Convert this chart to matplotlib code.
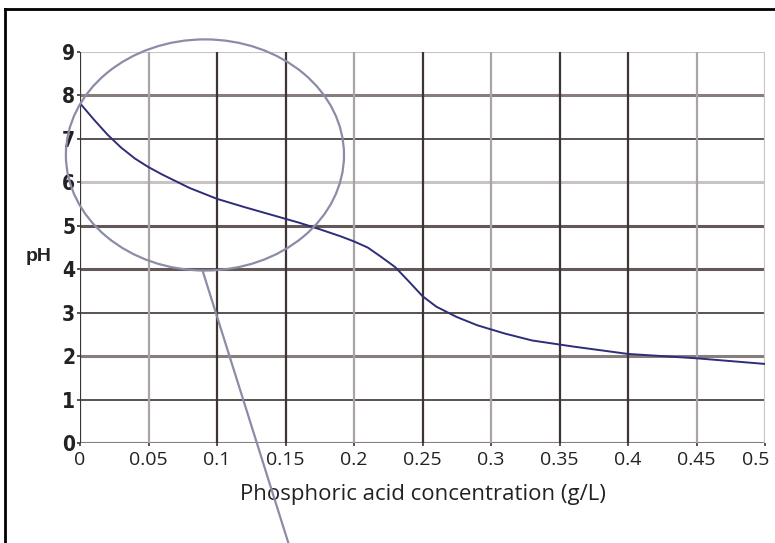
import numpy as np
import matplotlib
matplotlib.use("Agg")
import matplotlib.pyplot as plt
import matplotlib.transforms as mtransforms
from matplotlib.patches import Ellipse
from matplotlib.lines import Line2D

# data
conc = [0, 0.01, 0.02, 0.03, 0.04, 0.05, 0.06, 0.08, 0.1, 0.12, 0.14, 0.16,
        0.175, 0.19, 0.2, 0.21, 0.22, 0.23, 0.24, 0.25, 0.26, 0.275, 0.29,
        0.31, 0.33, 0.36, 0.4, 0.45, 0.5]
ph = [7.82, 7.45, 7.1, 6.8, 6.55, 6.35, 6.18, 5.87, 5.62, 5.43, 5.25, 5.07,
      4.92, 4.76, 4.64, 4.5, 4.28, 4.05, 3.72, 3.38, 3.14, 2.9, 2.71,
      2.52, 2.36, 2.22, 2.05, 1.95, 1.82]
xticks = [0, 0.05, 0.1, 0.15, 0.2, 0.25, 0.3, 0.35, 0.4, 0.45, 0.5]
xlabels = ["0", "0.05", "0.1", "0.15", "0.2", "0.25", "0.3", "0.35", "0.4", "0.45", "0.5"]
yticks = list(range(10))

dark = "#3e3434"
mid = "#877d7d"
light = "#c9c4c4"
hcol = [mid, dark, mid, dark, "#625858", "#625858", light, dark, mid, light]
hlw = [1.5, 1.2, 2.2, 1.2, 2.2, 2.2, 2.2, 1.2, 2.2, 1.5]
vcol = [dark, "#aaa4a4", dark, dark, "#aaa4a4", dark, "#aaa4a4", dark, dark, "#aaa4a4", light]

fig = plt.figure(figsize=(7.75, 5.43), dpi=100)
ax = fig.add_axes([80 / 775, 100 / 543, 685 / 775, 391 / 543])
ax.set_xlim(0, 0.5)
ax.set_ylim(0, 9)

for y, c, w in zip(yticks, hcol, hlw):
    ax.axhline(y, color=c, lw=w, zorder=1)
for x, c in zip(xticks, vcol):
    ax.axvline(x, color=c, lw=1.6, zorder=1)

ax.plot(conc, ph, color="#2e2d78", lw=1.4, zorder=3)

for s in ax.spines.values():
    s.set_visible(False)

ax.set_xticks(xticks)
ax.set_xticklabels(xlabels, family=["Open Sans", "DejaVu Sans"], fontsize=14, color="#222222")
ax.set_yticks(yticks)
ax.set_yticklabels([str(v) for v in yticks], family=["DejaVu Sans"], fontstretch="condensed",
                   fontweight="bold", fontsize=15, color="#222222")
ax.tick_params(axis="both", length=2.5, width=1.2, color=dark, pad=1)
ax.tick_params(axis="x", pad=3)
# last x label sits just inside the right edge
last = ax.get_xticklabels()[-1]
last.set_transform(last.get_transform() + mtransforms.ScaledTranslation(-9 / 100, 0, fig.dpi_scale_trans))

ax.set_xlabel("Phosphoric acid concentration (g/L)", family=["Open Sans", "DejaVu Sans"],
              fontsize=16, color="#222222", labelpad=11)
ax.set_ylabel("pH", family=["Liberation Sans", "DejaVu Sans"], fontweight="bold",
              fontsize=14, rotation=0, color="#222222")
ax.yaxis.set_label_coords(-0.06, 0.476)
ax.yaxis.label.set_verticalalignment("center")

# callout ellipse and pointer
ell = Ellipse((0.0912, 6.63), 0.203, 5.32, fill=False, edgecolor="#8c8ca6", lw=1.6,
              clip_on=False, zorder=4)
ax.add_patch(ell)
fig.add_artist(Line2D([203 / 775, 289 / 775], [1 - 272 / 543, 1 - 545 / 543],
                      color="#8c8ca6", lw=1.6))

# outer frame
fig.add_artist(Line2D([5 / 775, 5 / 775], [0, 1 - 9 / 543], color="black", lw=2))
fig.add_artist(Line2D([5 / 775, 1], [1 - 9 / 543, 1 - 9 / 543], color="black", lw=2))

fig.savefig("out.png", dpi=100)
